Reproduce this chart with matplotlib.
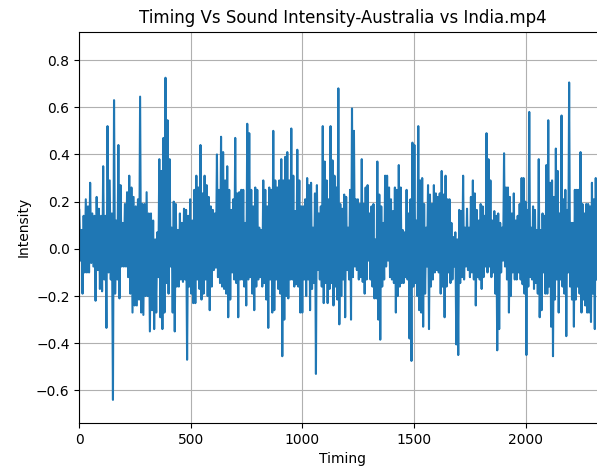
import matplotlib.pyplot as plt
import numpy as np

# segment edges on the Timing axis
seg_edges = [0, 331, 663, 995, 1327, 1659, 1991, 2323]

# upper / lower swing of the waveform, one pair per ~2 px column
top1 = [0.165, 0.08, 0.14, 0.21, 0.18, 0.28, 0.15, 0.14, 0.22, 0.17, 0.14, 0.35,
        0.14, 0.52, 0.29, 0.15, 0.63, 0.12, 0.44, 0.27, 0.11, 0.19, 0.24, 0.31,
        0.26, 0.22, 0.18, 0.21, 0.645, 0.19, 0.19, 0.24, 0.15, 0.15]
bot1 = [-0.05, -0.19, -0.10, -0.10, -0.10, -0.06, -0.075, -0.22, -0.09, -0.17,
        -0.18, -0.13, -0.335, -0.10, -0.13, -0.64, -0.19, -0.13, -0.21, -0.075,
        -0.075, -0.075, -0.12, -0.19, -0.27, -0.24, -0.24, -0.215, -0.27, -0.28,
        -0.20, -0.20, -0.35, -0.26]

top2 = [0.12, 0.04, 0.07, 0.38, 0.33, 0.47, 0.725, 0.545, 0.38, 0.09, 0.20, 0.19,
        0.08, 0.15, 0.11, 0.17, 0.165, 0.14, 0.21, 0.12, 0.25, 0.31, 0.26, 0.44,
        0.235, 0.31, 0.27, 0.22, 0.18, 0.165, 0.15, 0.40, 0.25, 0.475, 0.41, 0.29]
bot2 = [-0.34, -0.27, -0.12, -0.29, -0.34, -0.27, -0.145, -0.19, -0.075, -0.27,
        -0.35, -0.16, -0.16, -0.13, -0.14, -0.13, -0.47, -0.16, -0.19, -0.23,
        -0.23, -0.13, -0.17, -0.215, -0.19, -0.13, -0.20, -0.26, -0.16, -0.09,
        -0.08, -0.12, -0.145, -0.16, -0.17, -0.19]

top3 = [0.35, 0.25, 0.165, 0.21, 0.47, 0.235, 0.24, 0.25, 0.25, 0.11, 0.53, 0.49,
        0.25, 0.18, 0.26, 0.25, 0.09, 0.08, 0.29, 0.25, 0.18, 0.26, 0.25, 0.50,
        0.29, 0.26, 0.29, 0.38, 0.29, 0.39, 0.41, 0.29, 0.51, 0.31, 0.16, 0.42, 0.29]
bot3 = [-0.29, -0.215, -0.10, -0.13, -0.145, -0.29, -0.13, -0.13, -0.16, -0.24,
        -0.13, -0.12, -0.19, -0.26, -0.16, -0.13, -0.12, -0.16, -0.145, -0.215,
        -0.335, -0.13, -0.27, -0.26, -0.13, -0.17, -0.19, -0.455, -0.30, -0.20,
        -0.21, -0.13, -0.13, -0.16, -0.15, -0.16, -0.27]

top4 = [0.18, 0.18, 0.21, 0.30, 0.27, 0.28, 0.09, 0.235, 0.27, 0.15, 0.18, 0.52,
        0.37, 0.29, 0.21, 0.52, 0.375, 0.31, 0.26, 0.68, 0.19, 0.17, 0.23, 0.22,
        0.09, 0.25, 0.595, 0.50, 0.21, 0.21, 0.19, 0.38, 0.19, 0.26, 0.27, 0.15,
        0.18, 0.19]
bot4 = [-0.27, -0.13, -0.20, -0.13, -0.26, -0.17, -0.145, -0.53, -0.09, -0.13,
        -0.16, -0.23, -0.145, -0.23, -0.17, -0.145, -0.24, -0.16, -0.215, -0.32,
        -0.20, -0.13, -0.29, -0.09, -0.13, -0.30, -0.12, -0.075, -0.09, -0.13,
        -0.12, -0.14, -0.19, -0.13, -0.05, -0.13, -0.16, -0.21]

top5 = [0.04, 0.37, 0.23, 0.18, 0.11, 0.31, 0.31, 0.26, 0.21, 0.16, 0.26, 0.25,
        0.355, 0.26, 0.08, 0.07, 0.25, 0.15, 0.21, 0.45, 0.44, 0.12, 0.52, 0.29,
        0.30, 0.19, 0.09, 0.27, 0.23, 0.19, 0.27, 0.235, 0.22, 0.235, 0.33, 0.23,
        0.31, 0.21]
bot5 = [-0.21, -0.30, -0.385, -0.16, -0.13, -0.075, -0.05, -0.12, -0.13, -0.145,
        -0.27, -0.20, -0.16, -0.145, -0.145, -0.12, -0.13, -0.38, -0.475, -0.16,
        -0.145, -0.20, -0.26, -0.27, -0.33, -0.19, -0.075, -0.34, -0.16, -0.13,
        -0.10, -0.09, -0.10, -0.19, -0.16, -0.29, -0.16, -0.10]

top6 = [0.21, 0.11, 0.05, 0.07, 0.04, 0.165, 0.16, 0.31, 0.09, 0.17, 0.09, 0.22,
        0.29, 0.235, 0.165, 0.12, 0.19, 0.18, 0.14, 0.49, 0.38, 0.29, 0.12, 0.16,
        0.14, 0.15, 0.11, 0.09, 0.405, 0.26, 0.26, 0.22, 0.15, 0.235, 0.12, 0.14,
        0.19, 0.30]
bot6 = [-0.145, -0.13, -0.075, -0.405, -0.45, -0.145, -0.12, -0.13, -0.075, -0.09,
        -0.12, -0.10, -0.13, -0.24, -0.12, -0.13, -0.17, -0.12, -0.075, -0.10,
        -0.075, -0.12, -0.10, -0.19, -0.43, -0.34, -0.10, -0.05, -0.075, -0.13,
        -0.27, -0.20, -0.10, -0.13, -0.13, -0.10, -0.13, -0.15]

top7 = [0.30, 0.20, 0.165, 0.58, 0.09, 0.18, 0.165, 0.08, 0.38, 0.08, 0.15, 0.14,
        0.355, 0.545, 0.28, 0.29, 0.22, 0.425, 0.33, 0.15, 0.565, 0.21, 0.25, 0.165,
        0.705, 0.11, 0.11, 0.25, 0.25, 0.25, 0.41, 0.19, 0.15, 0.19, 0.19, 0.18,
        0.28, 0.21, 0.30]
bot7 = [-0.19, -0.45, -0.16, -0.12, -0.13, -0.17, -0.145, -0.19, -0.29, -0.26,
        -0.10, -0.19, -0.19, -0.16, -0.33, -0.455, -0.215, -0.13, -0.27, -0.13,
        -0.16, -0.19, -0.37, -0.10, -0.16, -0.215, -0.33, -0.215, -0.16, -0.19,
        -0.27, -0.215, -0.24, -0.27, -0.27, -0.31, -0.19, -0.34, -0.13]

tops = [top1, top2, top3, top4, top5, top6, top7]
bots = [bot1, bot2, bot3, bot4, bot5, bot6, bot7]

# stitch the swings into one sampled series
timing, intensity = [], []
for k, (tp, bt) in enumerate(zip(tops, bots)):
    n = len(tp)
    t = np.linspace(seg_edges[k], seg_edges[k + 1], 2 * n, endpoint=False)
    v = np.empty(2 * n)
    v[0::2] = tp
    v[1::2] = bt
    timing.append(t)
    intensity.append(v)
timing = np.concatenate(timing)
intensity = np.concatenate(intensity)

fig = plt.figure(figsize=(5.97, 4.72), dpi=100)
# axes run past the right edge, like the cropped original
ax = fig.add_axes([0.1328, 0.1038, 0.8821, 0.829])
ax.plot(timing, intensity, color='#1f77b4', linewidth=1.5)
ax.set_xlim(0, 2360)
ax.set_ylim(-0.738, 0.92)
ax.set_xticks([0, 500, 1000, 1500, 2000])
ax.set_yticks([-0.6, -0.4, -0.2, 0.0, 0.2, 0.4, 0.6, 0.8])
ax.grid(True)
ax.set_title('Timing Vs Sound Intensity-Australia vs India.mp4', fontsize=12)
ax.set_xlabel('Timing')
ax.set_ylabel('Intensity')

plt.savefig('out.png', dpi=100)
